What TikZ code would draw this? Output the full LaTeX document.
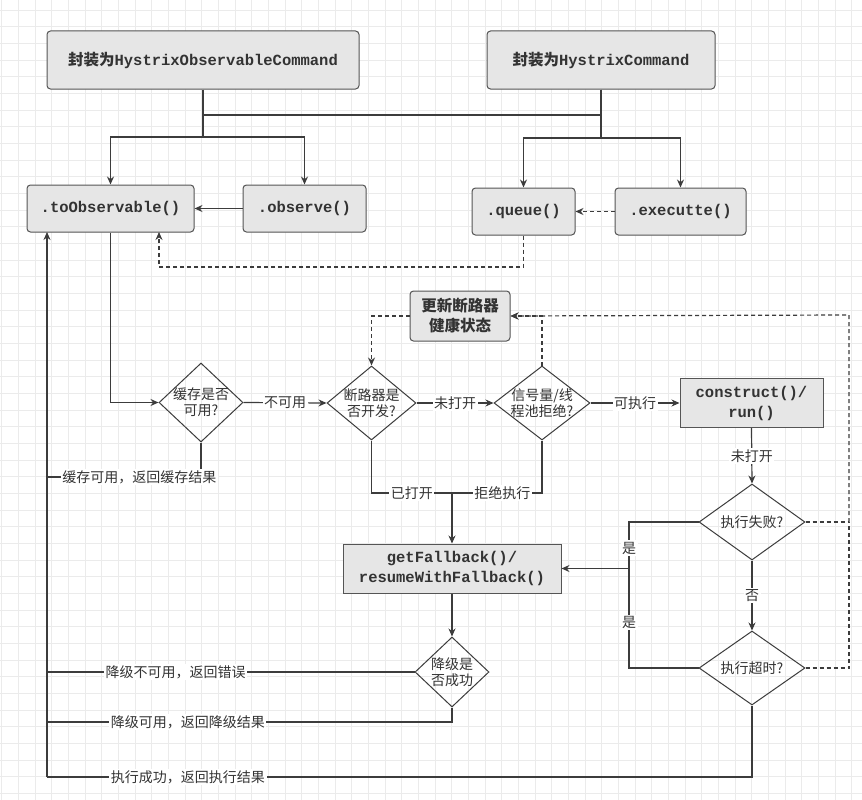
\documentclass[tikz,border=0pt]{standalone}
\usepackage{fontspec}
\usetikzlibrary{shapes.geometric,arrows.meta,calc}
\newfontfamily\cjk{Noto Sans CJK SC}
\newfontfamily\monof{Liberation Mono}
\definecolor{linec}{HTML}{3C3C3C}
\definecolor{boxline}{HTML}{555555}
\definecolor{boxfill}{HTML}{E6E6E6}
\definecolor{textc}{HTML}{333333}
\definecolor{gridc}{HTML}{EBEBEB}
\newcommand{\bigbold}{\fontsize{15.5}{20}\selectfont\bfseries}
\tikzset{
  rbox/.style={draw=boxline, fill=boxfill, line width=1pt, rounded corners=3.5pt, inner sep=0pt, text=textc, align=center, font=\bigbold},
  sbox/.style={draw=boxline, fill=boxfill, line width=1pt, inner sep=0pt, text=textc, align=center, font=\bigbold},
  dia/.style={draw=linec, diamond, line width=1pt, inner sep=0pt},
  dtext/.style={font=\cjk\fontsize{14}{16}\selectfont, align=center, text=textc, inner sep=0pt},
  lbl/.style={fill=white, inner sep=1.5pt, font=\cjk\fontsize{14}{16}\selectfont, text=textc},
  conn/.style={draw=linec, line width=1.2pt},
  arr/.style={conn, -{Stealth[length=8pt,width=7pt]}},
  darr/.style={arr, dash pattern=on 4pt off 3pt},
  dconn/.style={conn, dash pattern=on 4pt off 3pt},
}
\begin{document}
\begin{tikzpicture}[x=1pt,y=-1pt]
\useasboundingbox (0,0) rectangle (862,800);
\fill[white] (0,0) rectangle (862,800);
% grid
\foreach \i in {0,...,51} {\draw[gridc, line width=0.6pt] ({1.7+16.667*\i},0) -- ({1.7+16.667*\i},800);}
\foreach \i in {0,...,47} {\draw[gridc, line width=0.6pt] (0,{10+16.667*\i}) -- (862,{10+16.667*\i});}

% boxes
\node[rbox, minimum width=312pt, minimum height=58pt] (A) at (203,60) {{\cjk 封装为}{\monof HystrixObservableCommand}};
\node[rbox, minimum width=228pt, minimum height=58pt] (B) at (601,60) {{\cjk 封装为}{\monof HystrixCommand}};
\node[rbox, minimum width=167pt, minimum height=47pt] (toObs) at (110.5,208.5) {\monof .toObservable()};
\node[rbox, minimum width=123pt, minimum height=47pt] (observe) at (304.5,208.5) {\monof .observe()};
\node[rbox, minimum width=103pt, minimum height=47pt] (queue) at (523.5,211.5) {\monof .queue()};
\node[rbox, minimum width=131pt, minimum height=47pt] (exec) at (680.5,211.5) {\monof .executte()};
\node[rbox, minimum width=100pt, minimum height=50pt] (health) at (460,316) {\cjk 更新断路器\\\cjk 健康状态};
\node[sbox, minimum width=143pt, minimum height=49pt] (construct) at (751.5,403) {\monof construct()/\\\monof run()};
\node[sbox, minimum width=218pt, minimum height=49pt] (fallback) at (452,568.5) {\monof getFallback()/\\\monof resumeWithFallback()};

% diamonds
\node[dia, minimum width=84pt, minimum height=79pt] (d1) at (201,402.5) {};
\node[dtext] (t1) at (d1) {缓存是否\\可用?};
\node[dia, minimum width=89pt, minimum height=74pt] (d2) at (371.5,403) {};
\node[dtext] (t2) at (d2) {断路器是\\否开发?};
\node[dia, minimum width=96pt, minimum height=74pt] (d3) at (542,403) {};
\node[dtext] (t3) at (d3) {信号量/线\\程池拒绝?};
\node[dia, minimum width=106pt, minimum height=76pt] (d4) at (752,522) {};
\node[dtext] (t4) at (d4) {执行失败?};
\node[dia, minimum width=106pt, minimum height=74pt] (d5) at (752,668) {};
\node[dtext] (t5) at (d5) {执行超时?};
\node[dia, minimum width=74pt, minimum height=70pt] (d6) at (452,672) {};
\node[dtext] (t6) at (d6) {降级是\\否成功};

% coordinates
\coordinate (ja) at (203,137);
\coordinate (jb) at (601,138);
\coordinate (hA) at (203,115);
\coordinate (hB) at (601,115);
\coordinate (qd) at (523.5,267);
\coordinate (tin) at (159,232);
\coordinate (rail) at (47,232);
\coordinate (rs) at (849,315);
\coordinate (r4) at (849,522);
\coordinate (r5) at (849,668);
\coordinate (yes) at (629,568.5);
\coordinate (mrg) at (452,493);
\coordinate (c1) at (201,477);
\coordinate (c6a) at (47,672);
\coordinate (c6b) at (452,722);
\coordinate (c5) at (752,777);
\coordinate (rb) at (47,777);

% top connectors
\draw[conn] (A.south) -- (ja);
\draw[arr] (ja) -| (toObs.north);
\draw[arr] (ja) -| (observe.north);
\draw[conn] (hA) -- (hB);
\draw[conn] (B.south) -- (jb);
\draw[arr] (jb) -| (queue.north);
\draw[arr] (jb) -| (exec.north);
\draw[arr] (observe.west) -- (toObs.east);
\draw[darr] (exec.west) -- (queue.east);
\draw[darr] (queue.south) -- (qd) -| (tin);

% main flow
\draw[arr] (toObs.south) |- (d1.west);
\draw[arr] (d1.east) -- node[lbl] {不可用} (d2.west);
\draw[arr] (d2.east) -- node[lbl] {未打开} (d3.west);
\draw[arr] (d3.east) -- node[lbl] {可执行} (construct.west);
\draw[arr] (construct.south) -- node[lbl] {未打开} (d4.north);
\draw[arr] (d4.south) -- node[lbl] {否} (d5.north);
\draw[conn] (d4.west) -| node[lbl, pos=0.78] {是} (yes);
\draw[conn] (d5.west) -| node[lbl, pos=0.73] {是} (yes);
\draw[arr] (yes) -- (fallback.east);

% circuit breaker health
\draw[darr] (health.west) -| (d2.north);
\draw[darr] (d3.north) |- (health.east);
\draw[dconn] (d4.east) -- (r4);
\draw[dconn] (d5.east) -- (r5) -- (r4);
\draw[darr] (r4) -- (rs) -- (health.east);

% fallback path
\draw[conn] (d2.south) |- node[lbl, pos=0.75] {已打开} (mrg);
\draw[conn] (d3.south) |- node[lbl, pos=0.72] {拒绝执行} (mrg);
\draw[arr] (mrg) -- (fallback.north);
\draw[arr] (fallback.south) -- (d6.north);

% returns
\draw[conn] (d1.south) -- (c1) -- node[lbl, pos=0.4] {缓存可用，返回缓存结果} (47,477);
\draw[conn] (d6.west) -- node[lbl, pos=0.65] {降级不可用，返回错误} (c6a);
\draw[conn] (d6.south) -- (c6b) -- node[lbl, pos=0.652] {降级可用，返回降级结果} (47,722);
\draw[conn] (d5.south) -- (c5) -- node[lbl, pos=0.80] {执行成功，返回执行结果} (rb);
\draw[arr] (rb) -- (rail);
\end{tikzpicture}
\end{document}
